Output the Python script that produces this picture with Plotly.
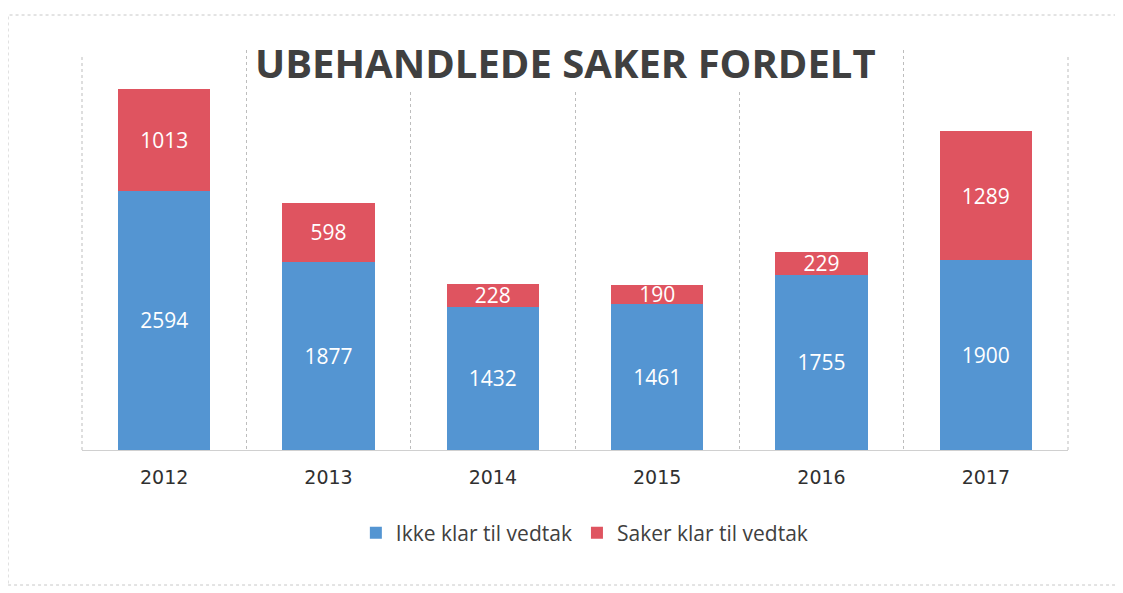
import plotly.graph_objects as go

years = ["2012", "2013", "2014", "2015", "2016", "2017"]
ikke_klar = [2594, 1877, 1432, 1461, 1755, 1900]
saker_klar = [1013, 598, 228, 190, 229, 1289]

blue = "#5495D2"
red = "#DF5460"

fig = go.Figure()
fig.add_trace(go.Bar(
    x=years, y=ikke_klar, name="Ikke klar til vedtak",
    marker=dict(color=blue, line=dict(width=0)),
    text=ikke_klar, textposition="inside", insidetextanchor="middle",
    constraintext="none", textangle=0,
    textfont=dict(color="white", size=21, family="Open Sans"),
))
fig.add_trace(go.Bar(
    x=years, y=saker_klar, name="Saker klar til vedtak",
    marker=dict(color=red, line=dict(width=0)),
    text=saker_klar, textposition="inside", insidetextanchor="middle",
    constraintext="none", textangle=0,
    textfont=dict(color="white", size=21, family="Open Sans"),
))

# the page body adds 8px offset, so margins compensate for it
fig.update_layout(
    barmode="stack",
    bargap=0.44,
    width=1123, height=593,
    margin=dict(l=74, r=63, t=42, b=151),
    paper_bgcolor="white", plot_bgcolor="white",
    font=dict(family="Open Sans", color="#404040"),
    showlegend=True,
    legend=dict(
        orientation="h", x=0.51, xanchor="center", y=-0.2075, yanchor="middle",
        font=dict(size=21, color="#404040"), itemwidth=30, traceorder="normal",
    ),
    xaxis=dict(
        type="category", tickson="boundaries", showgrid=True,
        gridcolor="#bdbdbd", griddash="dot", gridwidth=1,
        showline=True, linecolor="#d0d0d0", ticks="",
        ticklabelstandoff=10,
        tickfont=dict(size=19, color="#303030", family="DejaVu Sans"),
        range=[-0.5, 5.5],
    ),
    yaxis=dict(range=[0, 4000], visible=False, showgrid=False),
)

# outer gridlines at the plot edges
for xp in (0, 1):
    fig.add_shape(
        type="line", xref="paper", yref="paper", x0=xp, x1=xp, y0=0, y1=0.99,
        line=dict(color="#bdbdbd", width=1, dash="dot"), layer="below",
    )

fig.add_annotation(
    text="<b>UBEHANDLEDE SAKER FORDELT</b>", xref="paper", yref="paper",
    x=0.49, y=0.97, xanchor="center", yanchor="middle", showarrow=False,
    font=dict(size=40, color="#404040", family="Open Sans"),
    bgcolor="white",
)

# outer frame of the scanned chart
fig.add_shape(
    type="rect", xref="paper", yref="paper",
    x0=-0.075, x1=1.05, y0=-0.3375, y1=1.0875,
    line=dict(color="#c8c8c8", width=1, dash="dot"), layer="below",
)

fig.write_html("out.html")
